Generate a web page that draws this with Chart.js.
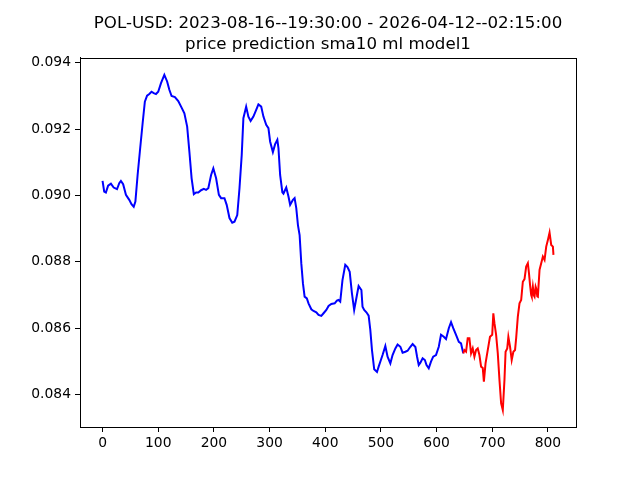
<!DOCTYPE html>
<html lang="en">
<head>
  <meta charset="UTF-8">
  <title>POL-USD price prediction sma10 ml model1</title>
  <script src="https://cdn.jsdelivr.net/npm/chart.js@4.4.1/dist/chart.umd.min.js"></script>
  <style>
    html, body { margin: 0; padding: 0; background: #fff; }
    #wrap { width: 640px; height: 480px; }
  </style>
</head>
<body>
  <div id="wrap"><canvas id="price-chart" width="640" height="480"></canvas></div>

  <script>
    const titleLines = ['POL-USD: 2023-08-16--19:30:00 - 2026-04-12--02:15:00', 'price prediction sma10 ml model1'];

    // history (blue), sma10 of price
    const histX = [0, 3, 6, 10, 15, 20, 26, 30, 33, 37, 42, 48, 52, 56, 59, 63, 67, 72, 76, 80,
      84, 88, 92, 96, 100, 105, 111, 116, 120, 124, 130, 136, 142, 147, 152, 156, 160, 164, 168, 172,
      177, 182, 186, 190, 195, 199, 204, 209, 213, 219, 223, 228, 233, 237, 242, 246, 250, 253, 258, 262,
      266, 271, 276, 280, 285, 289, 294, 298, 301, 306, 310, 314, 316, 319, 323, 325, 330, 334, 337, 342,
      345, 348, 351, 354, 357, 360, 363, 367, 370, 375, 379, 384, 388, 393, 397, 402, 406, 411, 417, 421,
      424, 427, 431, 436, 440, 444, 448, 452, 457, 460, 465, 467, 470, 474, 478, 481, 484, 488, 493, 496,
      500, 503, 508, 512, 517, 521, 526, 530, 535, 539, 544, 548, 553, 557, 562, 565, 568, 571, 575, 579,
      582, 586, 590, 594, 599, 604, 608, 613, 617, 622, 626, 630, 635, 640, 644, 648];
    const histY = [0.09044, 0.09012, 0.09009, 0.09030, 0.09036, 0.09024, 0.09019, 0.09037, 0.09044, 0.09034,
      0.09002, 0.08987, 0.08974, 0.08966, 0.08982, 0.09062, 0.09132, 0.09218, 0.09283, 0.09301,
      0.09306, 0.09313, 0.09309, 0.09306, 0.09313, 0.09339, 0.09364, 0.09344, 0.09319, 0.09300,
      0.09297, 0.09285, 0.09265, 0.09248, 0.09208, 0.09132, 0.09052, 0.09004, 0.09009, 0.09009,
      0.09016, 0.09020, 0.09017, 0.09022, 0.09062, 0.09082, 0.09052, 0.09002, 0.08992, 0.08992,
      0.08972, 0.08932, 0.08918, 0.08921, 0.08941, 0.09022, 0.09122, 0.09233, 0.09268, 0.09238,
      0.09225, 0.09238, 0.09258, 0.09275, 0.09268, 0.09238, 0.09213, 0.09203, 0.09163, 0.09131,
      0.09155, 0.09168, 0.09143, 0.09062, 0.09010, 0.09006, 0.09024, 0.08997, 0.08972, 0.08987,
      0.08992, 0.08962, 0.08911, 0.08881, 0.08796, 0.08735, 0.08695, 0.08690, 0.08675, 0.08657,
      0.08652, 0.08648, 0.08640, 0.08637, 0.08645, 0.08655, 0.08667, 0.08673, 0.08675, 0.08683,
      0.08685, 0.08680, 0.08745, 0.08791, 0.08784, 0.08770, 0.08705, 0.08655, 0.08700, 0.08727,
      0.08715, 0.08665, 0.08655, 0.08648, 0.08638, 0.08595, 0.08534, 0.08476, 0.08468, 0.08484,
      0.08504, 0.08519, 0.08546, 0.08514, 0.08494, 0.08519, 0.08539, 0.08551, 0.08544, 0.08526,
      0.08529, 0.08532, 0.08544, 0.08552, 0.08543, 0.08514, 0.08489, 0.08496, 0.08509, 0.08504,
      0.08489, 0.08479, 0.08499, 0.08514, 0.08519, 0.08544, 0.08580, 0.08574, 0.08567, 0.08600,
      0.08618, 0.08600, 0.08580, 0.08559, 0.08554, 0.08524];

    // prediction (red)
    const predX = [648, 650, 653, 656, 659, 662, 665, 668, 671, 674, 677, 680, 683, 685, 688, 690, 694, 696, 700, 702,
      704, 707, 710, 713, 716, 719, 722, 724, 727, 729, 732, 735, 738, 741, 743, 746, 749, 752, 755, 758,
      761, 764, 766, 768, 770, 771, 773, 775, 776, 778, 779, 781, 782, 785, 788, 791, 794, 797, 800, 803,
      806, 809, 810];
    const predY = [0.08524, 0.08534, 0.08529, 0.08570, 0.08570, 0.08524, 0.08539, 0.08514, 0.08534, 0.08539,
      0.08519, 0.08484, 0.08480, 0.08439, 0.08494, 0.08514, 0.08554, 0.08574, 0.08580, 0.08645,
      0.08615, 0.08580, 0.08524, 0.08444, 0.08373, 0.08353, 0.08444, 0.08529, 0.08539, 0.08574,
      0.08544, 0.08504, 0.08529, 0.08534, 0.08570, 0.08635, 0.08675, 0.08685, 0.08740, 0.08748,
      0.08786, 0.08796, 0.08766, 0.08730, 0.08700, 0.08695, 0.08725, 0.08698, 0.08695, 0.08725,
      0.08720, 0.08696, 0.08695, 0.08776, 0.08796, 0.08816, 0.08806, 0.08846, 0.08866, 0.08888,
      0.08851, 0.08846, 0.08821];

    const xTicks = [0, 100, 200, 300, 400, 500, 600, 700, 800];
    const yTicks = [0.084, 0.086, 0.088, 0.090, 0.092, 0.094];

    const FONT = 'DejaVu Sans';

    // matplotlib style box round the axes
    const frame = {
      id: 'frame',
      afterDraw(chart) {
        const a = chart.chartArea;
        const ctx = chart.ctx;
        ctx.save();
        ctx.strokeStyle = '#000';
        ctx.lineWidth = 1;
        ctx.strokeRect(Math.round(a.left) + 0.5, Math.round(a.top) + 0.5,
          Math.round(a.right - a.left), Math.round(a.bottom - a.top));
        ctx.restore();
      }
    };

    const toPts = (xs, ys) => xs.map((x, i) => ({ x: x, y: ys[i] }));

    new Chart(document.getElementById('price-chart'), {
      type: 'line',
      data: {
        datasets: [
          { label: 'price', data: toPts(histX, histY), borderColor: '#0000ff', borderWidth: 2, order: 1 },
          { label: 'prediction', data: toPts(predX, predY), borderColor: '#ff0000', borderWidth: 2, order: 0 }
        ]
      },
      options: {
        responsive: false,
        animation: false,
        events: [],
        elements: { point: { radius: 0 }, line: { tension: 0, fill: false } },
        layout: { padding: { left: 16, right: 0, top: 0, bottom: 0 } },
        plugins: {
          legend: { display: false },
          tooltip: { enabled: false },
          title: {
            display: true,
            text: titleLines,
            color: '#000',
            font: { family: FONT, size: 16.67, weight: 'normal', lineHeight: 1.25 },
            padding: { top: 13.5, bottom: 2.4 }
          }
        },
        scales: {
          x: {
            type: 'linear',
            min: -40.5,
            max: 850.5,
            afterBuildTicks: s => { s.ticks = xTicks.map(v => ({ value: v })); },
            afterFit: s => { s.height = 53; s.paddingLeft = 0; s.paddingRight = 0; },
            grid: { drawOnChartArea: false, drawTicks: true, tickLength: 5, color: '#000' },
            border: { display: true, color: '#000' },
            ticks: { color: '#000', padding: 3, maxRotation: 0, autoSkip: false, font: { family: FONT, size: 13.89 } }
          },
          y: {
            type: 'linear',
            min: 0.08302,
            max: 0.09416,
            afterBuildTicks: s => { s.ticks = yTicks.map(v => ({ value: v })); },
            afterFit: s => { s.width = 64; s.paddingTop = 0; s.paddingBottom = 0; },
            grid: { drawOnChartArea: false, drawTicks: true, tickLength: 5, color: '#000' },
            border: { display: true, color: '#000' },
            ticks: {
              color: '#000', padding: 4, autoSkip: false, font: { family: FONT, size: 13.89 },
              callback: v => v.toFixed(3)
            }
          },
          // empty right-hand box so the title centres over the plot like matplotlib
          spacer: {
            type: 'linear',
            position: 'right',
            display: true,
            afterFit: s => { s.width = 64; s.paddingTop = 0; s.paddingBottom = 0; },
            grid: { display: false },
            border: { display: false },
            ticks: { display: false }
          }
        }
      },
      plugins: [frame]
    });
  </script>
</body>
</html>
